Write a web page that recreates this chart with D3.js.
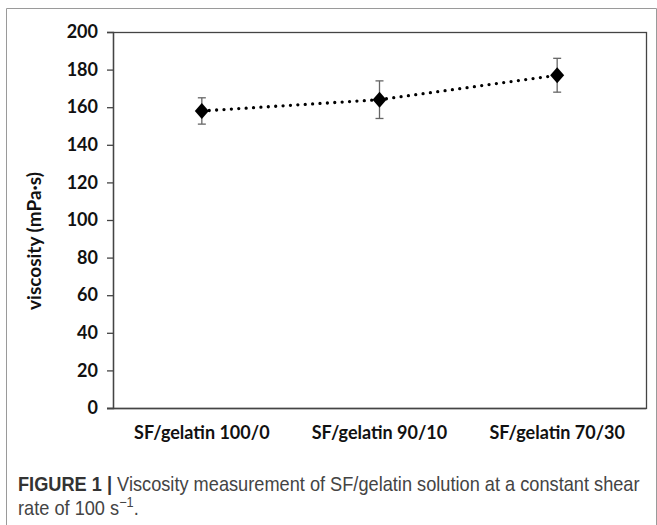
<!DOCTYPE html>
<html>
<head>
<meta charset="utf-8">
<script src="https://cdn.jsdelivr.net/npm/d3@7"></script>
<style>
  html, body { margin: 0; padding: 0; background: #fff; }
  svg { display: block; }
</style>
</head>
<body>
<svg id="chart" width="657" height="525"></svg>
<script>
// Viscosity of SF/gelatin blends (mPa·s) with standard deviations
const categories = ["SF/gelatin 100/0", "SF/gelatin 90/10", "SF/gelatin 70/30"];
const viscosity = [158, 164, 177];
const errorSD = [7, 10, 9];
const yTicks = [0, 20, 40, 60, 80, 100, 120, 140, 160, 180, 200];

const svg = d3.select("#chart");
const W = 657, H = 525;
const margin = { left: 113, top: 32 };
const plotW = 646 - margin.left;
const plotH = 408 - margin.top;
const labelFont = "Lato, 'Open Sans', sans-serif";

// Outer figure frame
svg.append("path")
  .attr("d", `M6.5,${H} V8.5 H${W - 0.5} V${H}`)
  .attr("fill", "none").attr("stroke", "#9a9a9a").attr("stroke-width", 1);

const g = svg.append("g").attr("transform", `translate(${margin.left},${margin.top})`);

const x = d3.scaleBand().domain(categories).range([0, plotW]);
const y = d3.scaleLinear().domain([0, 200]).range([plotH, 0]);

// Plot area box
g.append("rect").attr("x", 0.5).attr("y", 0.5).attr("width", plotW).attr("height", plotH)
  .attr("fill", "none").attr("stroke", "#444").attr("stroke-width", 1.3);

const yAxis = g.append("g")
  .call(d3.axisLeft(y).tickValues(yTicks).tickSize(6).tickPadding(9));
yAxis.select(".domain").attr("stroke", "#444").attr("stroke-width", 1.3);
yAxis.selectAll(".tick line").attr("stroke", "#444").attr("stroke-width", 1.3);
yAxis.selectAll("text")
  .attr("font-family", labelFont)
  .attr("font-weight", "bold").attr("font-size", 18).attr("fill", "#111");

const xAxis = g.append("g").attr("transform", `translate(0,${plotH})`)
  .call(d3.axisBottom(x).tickSize(0).tickPadding(18));
xAxis.select(".domain").remove();
xAxis.selectAll("text")
  .attr("font-family", labelFont)
  .attr("font-weight", "bold").attr("font-size", 18).attr("fill", "#111");
// baseline at zero extends left over the tick
g.append("line").attr("x1", -6).attr("x2", plotW).attr("y1", y(0) + 0.5).attr("y2", y(0) + 0.5)
  .attr("stroke", "#444").attr("stroke-width", 1.3);

// Y-axis title
svg.append("text")
  .attr("transform", "translate(41,241) rotate(-90)")
  .attr("text-anchor", "middle")
  .attr("font-family", labelFont)
  .attr("font-weight", "bold").attr("font-size", 19).attr("fill", "#111")
  .text("viscosity (mPa·s)");

const data = categories.map((c, i) => ({ c, v: viscosity[i], e: errorSD[i] }));
const cx = d => x(d.c) + x.bandwidth() / 2;

// Dotted connecting line
g.append("path").datum(data)
  .attr("d", d3.line().x(cx).y(d => y(d.v)))
  .attr("fill", "none").attr("stroke", "#000").attr("stroke-width", 3.3)
  .attr("stroke-linecap", "round").attr("stroke-dasharray", "0,7.4");

// Error bars
const eb = g.selectAll(".err").data(data).enter().append("g").attr("stroke", "#666").attr("stroke-width", 1.3);
eb.append("line").attr("x1", cx).attr("x2", cx).attr("y1", d => y(d.v + d.e)).attr("y2", d => y(d.v - d.e));
eb.append("line").attr("x1", d => cx(d) - 4).attr("x2", d => cx(d) + 4).attr("y1", d => y(d.v + d.e)).attr("y2", d => y(d.v + d.e));
eb.append("line").attr("x1", d => cx(d) - 4).attr("x2", d => cx(d) + 4).attr("y1", d => y(d.v - d.e)).attr("y2", d => y(d.v - d.e));

// Diamond markers
g.selectAll(".pt").data(data).enter().append("path")
  .attr("transform", d => `translate(${cx(d)},${y(d.v)})`)
  .attr("d", "M0,-8 L7,0 L0,8 L-7,0 Z")
  .attr("fill", "#000");

// Caption, set in a condensed sans (horizontally compressed)
const capFont = "'Liberation Sans', Arial, sans-serif";
const capG = svg.append("g");
const cap = capG.append("text").attr("x", 0).attr("y", 491)
  .attr("font-family", capFont).attr("font-size", 20).attr("fill", "#444");
cap.append("tspan").attr("font-weight", "bold").attr("fill", "#333").text("FIGURE 1 | ");
cap.append("tspan").text("Viscosity measurement of SF/gelatin solution at a constant shear");
const cap2 = capG.append("text").attr("x", 0).attr("y", 515)
  .attr("font-family", capFont).attr("font-size", 20).attr("fill", "#444");
cap2.append("tspan").text("rate of 100 s");
cap2.append("tspan").attr("dy", -8).attr("font-size", 14).text("−1");
cap2.append("tspan").attr("dy", 8).text(".");
const capW = cap.node().getComputedTextLength();
const sx = (640 - 18) / capW;
capG.attr("transform", `translate(18,0) scale(${sx},1)`);
</script>
</body>
</html>
